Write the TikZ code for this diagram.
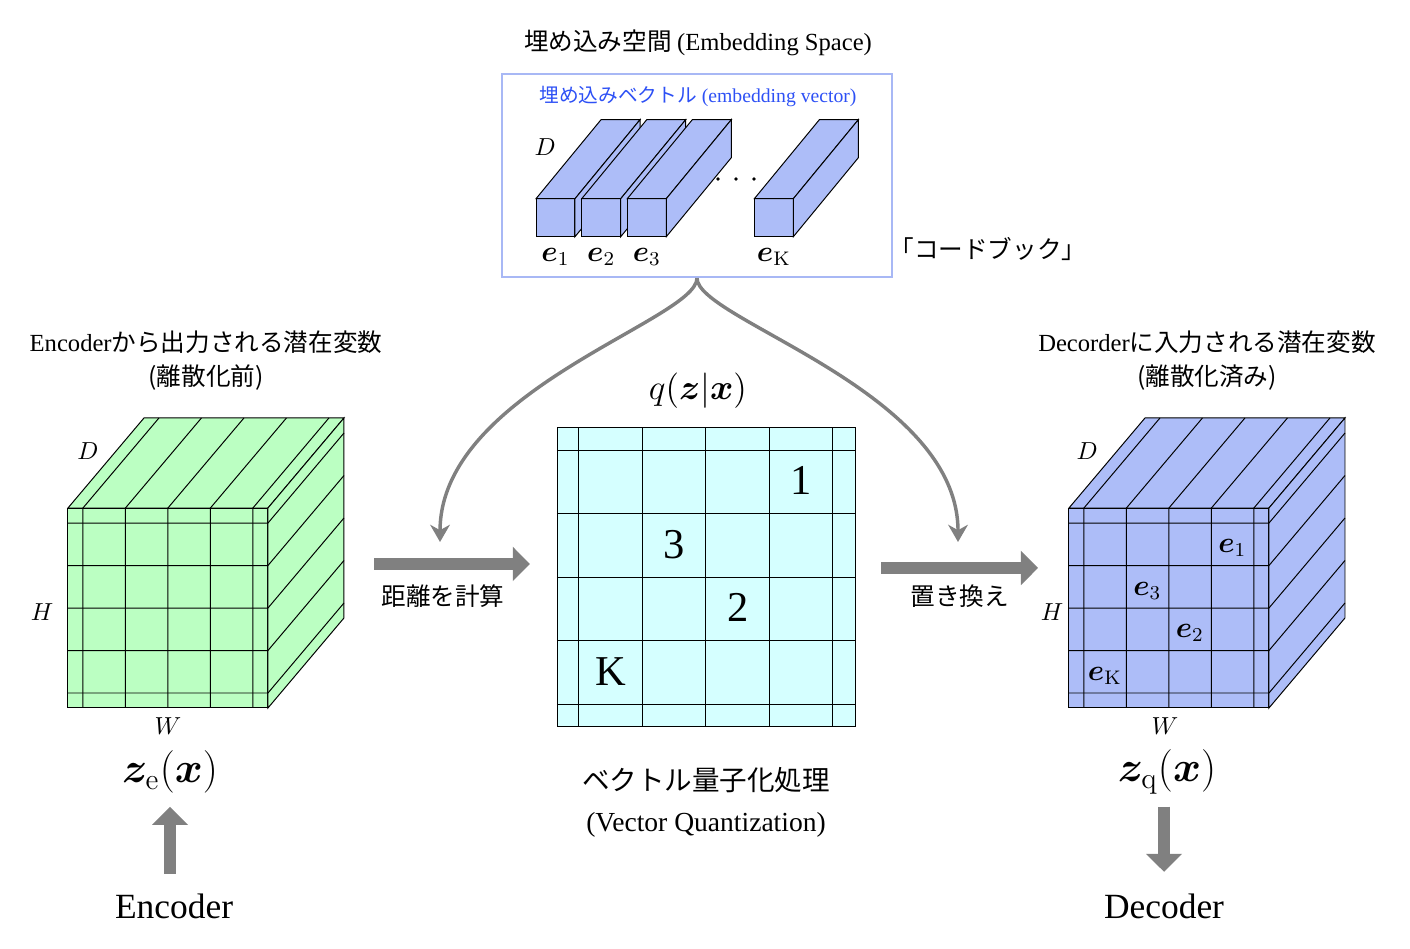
\documentclass[tikz,border=0pt]{standalone}
\usepackage[no-math]{fontspec}
\setmainfont{Liberation Serif}
\newfontfamily\jp{Noto Sans CJK JP}
\usepackage{bm}
\usetikzlibrary{arrows.meta}
\definecolor{encgreen}{RGB}{187,255,194}
\definecolor{decblue}{RGB}{173,189,248}
\definecolor{vqcyan}{RGB}{213,255,255}
\definecolor{boxblue}{RGB}{168,184,245}
\definecolor{labelblue}{RGB}{45,80,245}
\definecolor{arrowgray}{RGB}{128,128,128}
\tikzstyle{cube line}=[draw=black,line width=0.4pt]
\tikzstyle{codebook box}=[draw=boxblue,line width=0.9pt,minimum width=5.571cm,minimum height=2.9cm,inner sep=0pt]
\tikzstyle{fat arrow}=[draw=arrowgray,line width=4.9pt,-{Triangle[length=7pt,width=13.6pt]}]
\tikzstyle{bend arrow}=[draw=arrowgray,line width=1.4pt,-{Stealth[length=7pt,width=8pt,inset=2.2pt]}]
\tikzstyle{dim label}=[font=\normalsize]
\tikzstyle{vec label}=[font=\large]
\tikzstyle{jtext}=[font=\jp]
\tikzstyle{cell number}=[font=\LARGE]
\tikzstyle{big math}=[font=\LARGE]
\tikzstyle{vq text}=[font=\fontsize{11.2}{13.5}\selectfont]
\tikzstyle{coder}=[font=\Large]

\begin{document}
\begin{tikzpicture}
	\useasboundingbox (0,0) rectangle (20.143,13.543);

	% First we draw the two latent cubes
	\foreach \cx/\col in {0.971/encgreen, 15.271/decblue}
	{
		\begin{scope}[shift={(\cx,3.429)}]
			\path[cube line,fill=\col] (0,0) rectangle (2.857,2.857);
			\path[cube line,fill=\col] (0,2.857) -- ++(1.086,1.286) -- ++(2.857,0) -- (2.857,2.857) -- cycle;
			\path[cube line,fill=\col] (2.857,0) -- (2.857,2.857) -- ++(1.086,1.286) -- ++(0,-2.857) -- cycle;
			\foreach \i in {0,...,4}
			{
				\draw[cube line] ({0.214+0.607*\i},0) -- ++(0,2.857) -- ++(1.086,1.286);
				\draw[cube line] (0,{0.214+0.607*\i}) -- ++(2.857,0) -- ++(1.086,1.286);
			}
		\end{scope}
	}

	% Quantized vectors in the decoder cube
	\foreach \c/\r/\sub/\name in {4/1/1/q1, 2/2/3/q3, 3/3/2/q2, 1/4/\mathrm{K}/qK}
	\node[vec label] (\name) at ({15.48+0.607*(\c-0.5)},{6.015-0.607*(\r-0.5)}) {$\bm e_{\sub}$};

	% Axis labels
	\foreach \lx/\ly/\name/\txt in {1.257/7.1/dl/D, 0.6/4.8/hl/H, 2.4/3.171/wl/W, 15.529/7.1/dr/D, 15.029/4.8/hr/H, 16.643/3.171/wr/W, 7.786/11.443/db/D}
	\node[dim label] (\name) at (\lx,\ly) {$\txt$};

	% Codebook with its embedding vectors
	\node[jtext] (space title) at (9.971,12.929) {埋め込み空間 {\rmfamily (Embedding Space)}};
	\node[codebook box] (codebook) at (9.957,11.036) {};
	\node[font=\footnotesize,text=labelblue] (vec title) at (9.971,12.171) {{\jp 埋め込みベクトル} (embedding vector)};
	\foreach \x/\sub/\name in {7.657/1/e1, 8.310/2/e2, 8.961/3/e3, 10.776/\mathrm{K}/eK}
	{
		\path[cube line,fill=decblue] (\x,10.161) rectangle ++(0.557,0.543);
		\path[cube line,fill=decblue] (\x,10.704) -- ++(0.929,1.129) -- ++(0.557,0) -- ++(-0.929,-1.129) -- cycle;
		\path[cube line,fill=decblue] ({\x+0.557},10.161) -- ++(0,0.543) -- ++(0.929,1.129) -- ++(0,-0.543) -- cycle;
		\node[vec label,below=1pt] (\name) at ({\x+0.2785},10.161) {$\bm e_{\sub}$};
	}
	\foreach \x in {10.257,10.514,10.771}
	\fill (\x,10.986) circle (0.028);
	\node[jtext] (codebook label) at (14.114,9.986) {「コードブック」};

	% Distance table
	\begin{scope}[shift={(7.957,3.171)}]
		\path[cube line,fill=vqcyan] (0,0) rectangle (4.271,4.271);
		\foreach \i in {0,...,4}
		{
			\draw[cube line] ({0.314+0.907*\i},0) -- ++(0,4.271);
			\draw[cube line] (0,{0.314+0.907*\i}) -- ++(4.271,0);
		}
		\foreach \c/\r/\txt/\name in {4/1/1/one, 2/2/3/three, 3/3/2/two, 1/4/K/kay}
		\node[cell number] (\name) at ({0.314+0.907*(\c-0.5)},{3.957-0.907*(\r-0.5)}) {\txt};
	\end{scope}
	\node[font=\Large] (qzx) at (9.971,7.957) {$q(\bm z|\bm x)$};
	\node[vq text] (vq title) at (10.086,2.4) {\jp ベクトル量子化処理};
	\node[vq text] (vq sub) at (10.086,1.757) {(Vector Quantization)};

	% Titles above the cubes
	\node (enc title) at (2.943,8.657) {Encoder{\jp から出力される潜在変数}};
	\node[jtext] (enc sub) at (2.943,8.143) {(離散化前)};
	\node (dec title) at (17.243,8.657) {Decorder{\jp に入力される潜在変数}};
	\node[jtext] (dec sub) at (17.243,8.143) {(離散化済み)};

	% Connect codebook to both steps
	\coordinate (to dist) at (6.286,5.8);
	\coordinate (to swap) at (13.686,5.8);
	\draw[bend arrow] (codebook.south) .. controls (9.957,8.971) and (6.286,7.971) .. (to dist);
	\draw[bend arrow] (codebook.south) .. controls (9.957,8.971) and (13.686,7.971) .. (to swap);

	\coordinate (dist from) at (5.343,5.486);
	\coordinate (dist to) at (7.571,5.486);
	\draw[fat arrow] (dist from) -- (dist to);
	\node[jtext] (dist label) at (6.329,5.029) {距離を計算};
	\coordinate (swap from) at (12.586,5.429);
	\coordinate (swap to) at (14.829,5.429);
	\draw[fat arrow] (swap from) -- (swap to);
	\node[jtext] (swap label) at (13.714,5.029) {置き換え};

	% Encoder and decoder
	\node[big math] (ze) at (2.429,2.514) {$\bm z_{\mathrm e}(\bm x)$};
	\node[big math] (zq) at (16.671,2.514) {$\bm z_{\mathrm q}(\bm x)$};
	\node[coder] (enc) at (2.486,0.6) {Encoder};
	\node[coder] (dec) at (16.629,0.6) {Decoder};
	\draw[fat arrow,-{Triangle[length=7.3pt,width=14.2pt]},shorten <=4.5pt,shorten >=2pt] (ze.south |- enc.north) -- (ze.south);
	\draw[fat arrow,-{Triangle[length=7.3pt,width=14.2pt]},shorten <=1.6pt,shorten >=5.3pt] (zq.south -| dec.north) -- (dec.north);
\end{tikzpicture}
\end{document}
